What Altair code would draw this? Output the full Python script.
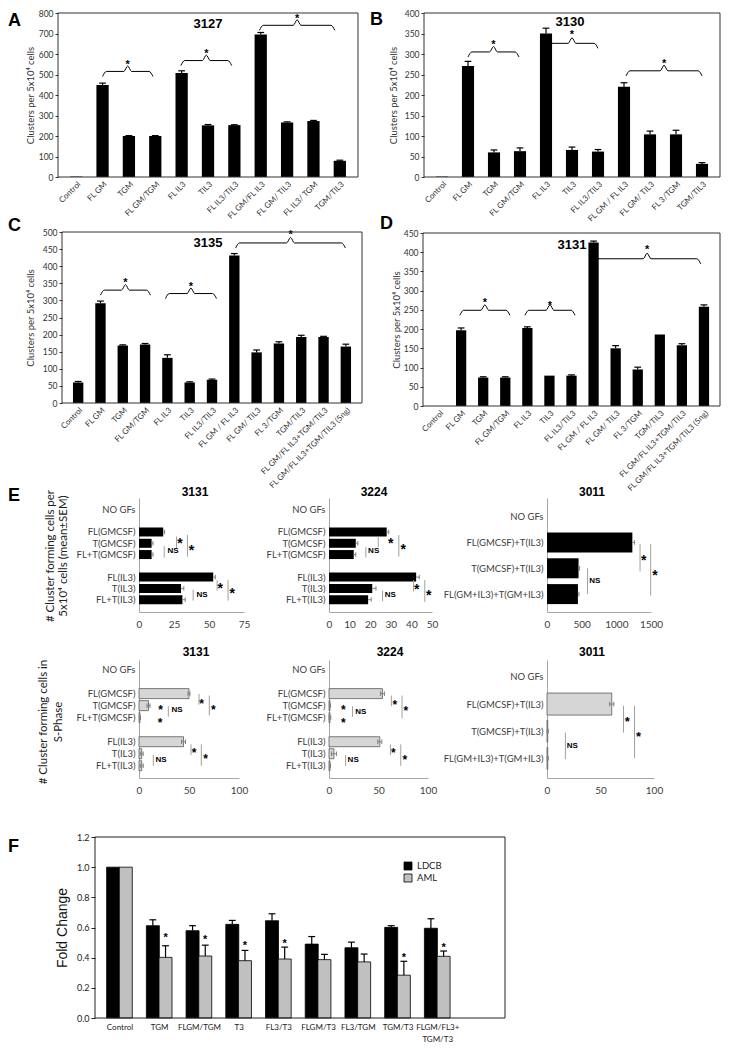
import json
import altair as alt
import pandas as pd

# ====================== DATA ======================
# Panel A : 3127
A_CATS = ["Control", "FL GM", "TGM", "FL GM/TGM", "FL IL3", "TIL3", "FL IL3/TIL3",
          "FL GM/FL IL3", "FL GM/ TIL3", "FL IL3/ TGM", "TGM/TIL3"]
A_VALS = [2, 449, 200, 200, 507, 252, 253, 695, 266, 273, 79]
A_ERRS = [0, 9, 2, 2, 11, 4, 2, 10, 3, 3, 3]
A_BR_START = [1.0, 3.97, 6.95]
A_BR_END = [2.91, 5.9, 9.81]
A_BR_LEVEL = [515, 568, 740]
A_BR_STAR = [563, 614, 786]

# Panel B : 3130
B_CATS = ["Control", "FL GM", "TGM", "FL GM/TGM", "FL IL3", "TIL3", "FL IL3/TIL3",
          "FL GM / FL IL3", "FL GM/ TIL3", "FL 3/TGM", "TGM/TIL3"]
B_VALS = [1, 271, 60, 63, 350, 66, 62, 220, 104, 104, 32]
B_ERRS = [0, 11, 6, 8, 13, 7, 5, 10, 8, 10, 3]
B_BR_START = [1.0, 4.0, 7.08]
B_BR_END = [2.96, 6.0, 10.0]
B_BR_LEVEL = [305, 326, 259]
B_BR_STAR = [330, 354, 284]

# Panels C (3135) and D (3131)
CD_CATS = ["Control", "FL GM", "TGM", "FL GM/TGM", "FL IL3", "TIL3", "FL IL3/TIL3",
           "FL GM / FL IL3", "FL GM/ TIL3", "FL 3/TGM", "TGM/TIL3",
           "FL GM/FL IL3+TGM/TIL3", "FL GM/FL IL3+TGM/TIL3 (5ng)"]
C_VALS = [60, 292, 168, 171, 132, 60, 68, 431, 148, 174, 193, 193, 165]
C_ERRS = [3, 6, 2, 3, 9, 2, 2, 6, 7, 5, 5, 2, 7]
C_BR_START = [1.0, 3.91, 7.06]
C_BR_END = [3.24, 6.2, 11.98]
C_BR_LEVEL = [330, 320, 468]
C_BR_STAR = [359, 349, 500]

D_VALS = [0, 197, 74, 74, 203, 79, 79, 425, 150, 95, 186, 158, 258]
D_ERRS = [0, 6, 2, 2, 3, 0, 2, 4, 7, 6, 0, 4, 5]
D_BR_START = [0.94, 3.89, 7.0]
D_BR_END = [3.21, 6.16, 11.85]
D_BR_LEVEL = [249, 249, 383]
D_BR_STAR = [275, 268, 414]

# Panel E
E_ROWS = ["NO GFs", "FL(GMCSF)", "T(GMCSF)", "FL+T(GMCSF)", "FL(IL3)", "T(IL3)", "FL+T(IL3)"]
E_IDX = [0, 2, 3, 4, 6, 7, 8]
E3011_ROWS = ["NO GFs", "FL(GMCSF)+T(IL3)", "T(GMCSF)+T(IL3)", "FL(GM+IL3)+T(GM+IL3)"]
E3011_IDX = [0, 1, 2, 3]

# top row: cluster forming cells
E1_3131_VALS = [0, 17.3, 9, 9, 53, 30, 31]
E1_3131_ERRS = [0, 1, 1, 1, 1.5, 2, 2]
E1_3131_SIG_X = [26.8, 34.6, 18.0, 55.8, 63.6, 38.7]
E1_3131_SIG_Y1 = [2.4, 2.27, 3.25, 6.27, 6.27, 7.12]
E1_3131_SIG_Y2 = [3.47, 4.19, 4.27, 7.2, 8.08, 8.08]
E1_3131_STAR_X = [29.2, 37.5, 58.0, 66.5]
E1_3131_STAR_Y = [2.72, 3.33, 6.67, 7.15]
E1_3131_NS_X = [19.7, 40.3]
E1_3131_NS_Y = [3.68, 7.55]

E1_3224_VALS = [0, 28, 13, 12, 42.3, 21, 19]
E1_3224_ERRS = [0, 1, 1, 1, 1.5, 1.8, 1.5]
E1_3224_SIG_X = [23.9, 33.9, 17.9, 41.0, 46.5, 26.0]
E1_3224_SIG_Y1 = [2.4, 2.27, 3.33, 6.27, 6.27, 7.2]
E1_3224_SIG_Y2 = [3.35, 4.19, 4.27, 7.28, 8.2, 8.13]
E1_3224_STAR_X = [30.0, 36.0, 42.6, 48.4]
E1_3224_STAR_Y = [2.72, 3.25, 6.75, 7.33]
E1_3224_NS_X = [18.5, 26.6]
E1_3224_NS_Y = [3.68, 7.55]

E1_3011_VALS = [0, 1231, 455, 446]
E1_3011_ERRS = [0, 30, 15, 15]
E1_3011_SIG_X = [1342, 1495, 585]
E1_3011_SIG_Y1 = [1.06, 1.06, 2.0]
E1_3011_SIG_Y2 = [2.12, 3.06, 3.0]
E1_3011_STAR_X = [1394, 1557]
E1_3011_STAR_Y = [1.55, 2.15]
E1_3011_NS_X = [595]
E1_3011_NS_Y = [2.49]

# bottom row: S-phase
E2_3131_VALS = [0, 50, 9.5, 1, 44.5, 2.7, 2.7]
E2_3131_ERRS = [0, 1, 1.5, 0.5, 2, 1.5, 1.5]
E2_3131_SIG_X = [60.0, 70.3, 29.3, 52.0, 62.3, 14.3]
E2_3131_SIG_Y1 = [2.03, 2.16, 3.05, 6.22, 6.22, 7.1]
E2_3131_SIG_Y2 = [2.92, 3.81, 3.93, 7.1, 8.0, 8.0]
E2_3131_STAR_X = [21.7, 21.0, 62.7, 74.3, 55.0, 66.7]
E2_3131_STAR_Y = [3.0, 4.1, 2.49, 3.05, 6.6, 7.1]
E2_3131_NS_X = [31.5, 15.5]
E2_3131_NS_Y = [3.4, 7.49]

E2_3224_VALS = [0, 54, 1, 1, 51.3, 5, 1]
E2_3224_ERRS = [0, 2, 0.5, 0.8, 2, 2.5, 0.5]
E2_3224_SIG_X = [63.0, 73.8, 23.8, 62.0, 72.5, 16.8]
E2_3224_SIG_Y1 = [2.16, 2.16, 3.05, 6.22, 6.22, 7.1]
E2_3224_SIG_Y2 = [3.05, 4.06, 3.93, 7.1, 8.0, 8.0]
E2_3224_STAR_X = [14.4, 14.4, 66.4, 77.5, 65.0, 76.5]
E2_3224_STAR_Y = [3.05, 4.1, 2.6, 3.12, 6.6, 7.16]
E2_3224_NS_X = [25.5, 17.8]
E2_3224_NS_Y = [3.5, 7.54]

E2_3011_VALS = [0, 60.5, 0.7, 0.7]
E2_3011_ERRS = [0, 2, 0.5, 0.5]
E2_3011_SIG_X = [71.5, 81.8, 17.2]
E2_3011_SIG_Y1 = [1.06, 1.06, 2.05]
E2_3011_SIG_Y2 = [2.05, 2.99, 3.03]
E2_3011_STAR_X = [75.0, 85.6]
E2_3011_STAR_Y = [1.5, 2.07]
E2_3011_NS_X = [17.6]
E2_3011_NS_Y = [2.56]

# Panel F
F_CATS = ["Control", "TGM", "FLGM/TGM", "T3", "FL3/T3", "FLGM/T3", "FL3/TGM", "TGM/T3",
          "FLGM/FL3+\nTGM/T3"]
F_LDCB = [1.0, 0.612, 0.579, 0.621, 0.645, 0.49, 0.466, 0.601, 0.595]
F_LDCB_ERR = [0, 0.039, 0.033, 0.026, 0.046, 0.05, 0.037, 0.011, 0.063]
F_AML = [1.0, 0.402, 0.411, 0.380, 0.391, 0.387, 0.372, 0.284, 0.409]
F_AML_ERR = [0, 0.077, 0.072, 0.068, 0.079, 0.035, 0.052, 0.092, 0.035]
F_AML_STAR = [None, 0.549, 0.538, 0.494, 0.509, None, None, 0.42, 0.487]
F_SERIES = ["LDCB", "AML"]
F_COLORS = ["#000000", "#c0c0c0"]

# ====================== HELPERS ======================
TOTAL_W, TOTAL_H = 713, 1034
SANS = "Lato, Open Sans, sans-serif"
ARIAL = "Liberation Sans, Arial, sans-serif"


def one():
    return pd.DataFrame({"k": [0]})


def note(text, x, y, size, bold=True, font=ARIAL, align="left", baseline="top",
         angle=None, color="#000000"):
    kw = dict(text=text, fontSize=size, font=font, align=align, baseline=baseline,
              color=color, fontWeight="bold" if bold else "normal")
    if angle is not None:
        kw["angle"] = angle
    return alt.Chart(one()).mark_text(**kw).encode(x=alt.value(x), y=alt.value(y))


def frame(L, R, T, Bm, color="#333333"):
    return alt.Chart(one()).mark_rect(fill="transparent", stroke=color, strokeWidth=1).encode(
        x=alt.value(L), x2=alt.value(R), y=alt.value(T), y2=alt.value(Bm))


def bar_panel(letter, letter_xy, title, title_xy, cats, vals, errs, ymax, ystep,
              bs, be, bl, bst, L, R, T, Bm, ytitle_dx):
    n = len(cats)
    step = (R - L) / n
    upx = ymax / (Bm - T)
    df = pd.DataFrame({"i": list(range(n)), "v": vals, "e": errs})
    xs = alt.Scale(domain=[-0.5, n - 0.5], range=[L, R], nice=False, zero=False)
    ys = alt.Scale(domain=[0, ymax], range=[Bm, T], nice=False)
    xa = alt.Axis(orient="bottom", offset=Bm - TOTAL_H, values=list(range(n)),
                  labelExpr=json.dumps(cats) + "[datum.value]",
                  labelAngle=315, labelAlign="right", labelBaseline="top", labelFont=SANS,
                  labelFontSize=8, labelColor="#333333", labelPadding=3, labelOverlap=False,
                  labelFlush=False, ticks=False, domain=False, grid=False, title=None)
    ya = alt.Axis(orient="left", offset=-L, values=list(range(0, ymax + 1, ystep)),
                  labelFont=SANS, labelFontSize=8.5,
                  labelColor="#333333", tickSize=3, tickColor="#333333", domain=False,
                  grid=False, labelPadding=2, labelFlush=False, labelOverlap=False,
                  title="Clusters per 5x10\u2074 cells", titleFont=SANS, titleFontSize=9.5,
                  titleFontWeight="normal", titleColor="#333333", titleX=ytitle_dx,
                  titleY=(T + Bm) / 2, titleAngle=270, titleAlign="center",
                  titleBaseline="middle")

    def X(f):
        return alt.X(f, type="quantitative", scale=xs, axis=xa)

    def Y(f):
        return alt.Y(f, type="quantitative", scale=ys, axis=ya)

    cap = 3.5 / step
    rows = []
    d = 5 * upx
    p = 5.5 * upx
    r = 4.0 / step
    for k, (s, e, lv) in enumerate(zip(bs, be, bl)):
        m = (s + e) / 2
        pts = [(s, lv - d), (s + r, lv), (m - r, lv), (m, lv + p), (m + r, lv),
               (e - r, lv), (e, lv - d)]
        for j, (px, py) in enumerate(pts):
            rows.append({"b": k, "o": j, "bx": px, "by": py})
    brace_df = pd.DataFrame(rows)
    star_df = pd.DataFrame({"mx": [(s + e) / 2 for s, e in zip(bs, be)], "sy": bst})

    braces = alt.Chart(brace_df).mark_line(interpolate="monotone", color="black",
                                           strokeWidth=1).encode(
        x=X("bx"), y=Y("by"), detail="b:N", order="o:Q")
    bars = alt.Chart(df).mark_bar(orient="vertical", size=0.45 * step, color="black").encode(
        x=X("i"), y=Y("v"))
    err = alt.Chart(df).transform_filter("datum.e > 0").transform_calculate(
        t="datum.v + datum.e").mark_rule(color="black", strokeWidth=1.2).encode(
        x=X("i"), y=Y("v"), y2="t")
    caps = alt.Chart(df).transform_filter("datum.e > 0").transform_calculate(
        t="datum.v + datum.e", xl=f"datum.i - {cap}", xr=f"datum.i + {cap}").mark_rule(
        color="black", strokeWidth=1.2).encode(x=X("xl"), x2="xr", y=Y("t"))
    stars = alt.Chart(star_df).mark_text(text="*", fontSize=11, font=ARIAL, fontWeight="bold",
                                         color="#000000", baseline="middle", dy=3).encode(
        x=X("mx"), y=Y("sy"))
    return alt.layer(braces, bars, err, caps, stars, frame(L, R, T, Bm),
                     note(title, title_xy[0], title_xy[1], 13, align="center",
                          baseline="middle"),
                     note(letter, letter_xy[0], letter_xy[1], 18))


def hpanel(title, title_xy, names, idx, vals, errs, gray, xmax, xticks, ydom,
           L, R, T, Bm, size, sx, sy1, sy2, stx, sty, nsx, nsy, lab_size, star_size):
    arr = [""] * (max(idx) + 1)
    for k, nm in zip(idx, names):
        arr[k] = nm
    df = pd.DataFrame({"i": idx, "v": vals, "e": errs})
    xs = alt.Scale(domain=[0, xmax], range=[L, R], nice=False)
    ys = alt.Scale(domain=ydom, range=[T, Bm], nice=False, zero=False)
    xa = alt.Axis(orient="bottom", offset=Bm - TOTAL_H, values=xticks, format="d",
                  labelFont=SANS, labelFontSize=10, labelColor="#404040",
                  ticks=False, domainColor="#a6a6a6", grid=False, labelPadding=7,
                  labelFlush=False, labelOverlap=False, title=None)
    ya = alt.Axis(orient="left", offset=-L, values=idx,
                  labelExpr=json.dumps(arr) + "[datum.value]", labelFont=SANS,
                  labelFontSize=lab_size, labelColor="#404040", ticks=False,
                  domainColor="#a6a6a6", grid=False, labelPadding=4, labelOverlap=False,
                  labelFlush=False, title=None)

    def X(f):
        return alt.X(f, type="quantitative", scale=xs, axis=xa)

    def Y(f):
        return alt.Y(f, type="quantitative", scale=ys, axis=ya)

    upy = (ydom[1] - ydom[0]) / (Bm - T)
    cap = 2.5 * upy
    if gray:
        bkw = dict(fill="#d6d6d6", stroke="#5a5a5a", strokeWidth=0.8)
        lo = "datum.v - datum.e"
    else:
        bkw = dict(color="black")
        lo = "datum.v"
    bars = alt.Chart(df).transform_filter("datum.v > 0").mark_bar(
        orient="horizontal", size=size, **bkw).encode(x=X("v"), y=Y("i"))
    base = alt.Chart(df).transform_filter("datum.v > 0").transform_calculate(
        lo=lo, hi="datum.v + datum.e", yl=f"datum.i - {cap}", yr=f"datum.i + {cap}")
    err = base.mark_rule(color="#808080", strokeWidth=1).encode(x=X("lo"), x2="hi", y=Y("i"))
    cap_hi = base.mark_rule(color="#808080", strokeWidth=1).encode(
        x=X("hi"), y=Y("yl"), y2="yr")
    layers = [bars, err, cap_hi]
    if gray:
        layers.append(base.mark_rule(color="#808080", strokeWidth=1).encode(
            x=X("lo"), y=Y("yl"), y2="yr"))
    sig = alt.Chart(pd.DataFrame({"sx": sx, "sy1": sy1, "sy2": sy2})).mark_rule(
        color="#a0a0a0", strokeWidth=1).encode(x=X("sx"), y=Y("sy1"), y2="sy2")
    stars = alt.Chart(pd.DataFrame({"stx": stx, "sty": sty})).mark_text(
        text="*", fontSize=star_size, fontWeight="bold", font=ARIAL, color="#000000",
        baseline="middle", dy=4).encode(x=X("stx"), y=Y("sty"))
    ns = alt.Chart(pd.DataFrame({"nsx": nsx, "nsy": nsy})).mark_text(
        text="NS", fontSize=8, fontWeight="bold", font=ARIAL, align="left",
        color="#000000", baseline="middle", dx=1).encode(x=X("nsx"), y=Y("nsy"))
    layers += [sig, stars, ns,
               note(title, title_xy[0], title_xy[1], 12, align="center", baseline="middle")]
    return alt.layer(*layers)


# ====================== PANELS (pixel frames) ======================
A = bar_panel("A", (0, 4), "3127", (200, 16), A_CATS, A_VALS, A_ERRS, 800, 100,
              A_BR_START, A_BR_END, A_BR_LEVEL, A_BR_STAR,
              L=50, R=350, T=5, Bm=169, ytitle_dx=-28)
B = bar_panel("B", (362, 3), "3130", (562, 14), B_CATS, B_VALS, B_ERRS, 400, 50,
              B_BR_START, B_BR_END, B_BR_LEVEL, B_BR_STAR,
              L=416, R=712, T=5, Bm=169, ytitle_dx=-31)
C = bar_panel("C", (0, 209), "3135", (200, 235), CD_CATS, C_VALS, C_ERRS, 500, 50,
              C_BR_START, C_BR_END, C_BR_LEVEL, C_BR_STAR,
              L=54, R=354, T=224, Bm=395, ytitle_dx=-32)
D = bar_panel("D", (372, 207), "3131", (564, 237), CD_CATS, D_VALS, D_ERRS, 450, 50,
              D_BR_START, D_BR_END, D_BR_LEVEL, D_BR_STAR,
              L=415, R=712, T=225, Bm=398, ytitle_dx=-27)

E1a = hpanel("3131", (187, 484), E_ROWS, E_IDX, E1_3131_VALS, E1_3131_ERRS, False, 75,
             [0, 25, 50, 75], [-0.57, 8.65], 131, 236, 490, 604, 9,
             E1_3131_SIG_X, E1_3131_SIG_Y1, E1_3131_SIG_Y2, E1_3131_STAR_X, E1_3131_STAR_Y,
             E1_3131_NS_X, E1_3131_NS_Y, 9.5, 14)
E1b = hpanel("3224", (366, 484), E_ROWS, E_IDX, E1_3224_VALS, E1_3224_ERRS, False, 50,
             [0, 10, 20, 30, 40, 50], [-0.57, 8.65], 321, 424, 490, 604, 9,
             E1_3224_SIG_X, E1_3224_SIG_Y1, E1_3224_SIG_Y2, E1_3224_STAR_X, E1_3224_STAR_Y,
             E1_3224_NS_X, E1_3224_NS_Y, 9.5, 14)
E1c = hpanel("3011", (584, 484), E3011_ROWS, E3011_IDX, E1_3011_VALS, E1_3011_ERRS, False,
             1500, [0, 500, 1000, 1500], [-0.53, 3.5], 539, 643, 490, 604, 20,
             E1_3011_SIG_X, E1_3011_SIG_Y1, E1_3011_SIG_Y2, E1_3011_STAR_X, E1_3011_STAR_Y,
             E1_3011_NS_X, E1_3011_NS_Y, 9.5, 14)

E2a = hpanel("3131", (188, 644), E_ROWS, E_IDX, E2_3131_VALS, E2_3131_ERRS, True, 100,
             [0, 50, 100], [-0.38, 8.6], 131, 231, 652, 770, 10,
             E2_3131_SIG_X, E2_3131_SIG_Y1, E2_3131_SIG_Y2, E2_3131_STAR_X, E2_3131_STAR_Y,
             E2_3131_NS_X, E2_3131_NS_Y, 9.5, 12)
E2b = hpanel("3224", (382, 644), E_ROWS, E_IDX, E2_3224_VALS, E2_3224_ERRS, True, 100,
             [0, 50, 100], [-0.38, 8.6], 321, 420, 652, 770, 10,
             E2_3224_SIG_X, E2_3224_SIG_Y1, E2_3224_SIG_Y2, E2_3224_STAR_X, E2_3224_STAR_Y,
             E2_3224_NS_X, E2_3224_NS_Y, 9.5, 12)
E2c = hpanel("3011", (584, 644), E3011_ROWS, E3011_IDX, E2_3011_VALS, E2_3011_ERRS, True,
             100, [0, 50, 100], [-0.44, 3.54], 539, 646, 652, 770, 22,
             E2_3011_SIG_X, E2_3011_SIG_Y1, E2_3011_SIG_Y2, E2_3011_STAR_X, E2_3011_STAR_Y,
             E2_3011_NS_X, E2_3011_NS_Y, 9.5, 13)

E_TEXT = alt.layer(
    note("E", 0, 479, 18),
    note("# Cluster forming cells per", 43, 548, 11.5, bold=False, font=SANS,
         align="center", baseline="middle", angle=270, color="#222222"),
    note("5x10\u2074 cells (mean\u00b1SEM)", 56, 548, 11.5, bold=False, font=SANS,
         align="center", baseline="middle", angle=270, color="#222222"),
    note("# Cluster forming cells in", 36, 714, 11.5, bold=False, font=SANS,
         align="center", baseline="middle", angle=270, color="#222222"),
    note("S-Phase", 51, 714, 11.5, bold=False, font=SANS,
         align="center", baseline="middle", angle=270, color="#222222"),
)

# ---- Panel F ----
FL, FR, FT, FB = 87, 497, 829, 1010
n_f = len(F_CATS)
stepF = (FR - FL) / (9.58 + 0.49)
offF = 6.5 / stepF
capF = 3.5 / stepF
f_rows = []
for g in range(n_f):
    f_rows.append({"g": g, "s": "LDCB", "v": F_LDCB[g], "e": F_LDCB_ERR[g], "st": None})
    f_rows.append({"g": g, "s": "AML", "v": F_AML[g], "e": F_AML_ERR[g], "st": F_AML_STAR[g]})
fdf = pd.DataFrame(f_rows)
f_labels = [c.split("\n") for c in F_CATS]
fxs = alt.Scale(domain=[-0.49, 9.58], range=[FL, FR], nice=False, zero=False)
fys = alt.Scale(domain=[0, 1.2], range=[FB, FT], nice=False)
fcs = alt.Scale(domain=F_SERIES, range=F_COLORS)
fxa = alt.Axis(orient="bottom", offset=FB - TOTAL_H, values=list(range(n_f)),
               labelExpr=json.dumps(f_labels) + "[datum.value]",
               labelAngle=0, labelFont=SANS, labelFontSize=8, labelColor="#222222",
               ticks=False, domain=False, grid=False, labelPadding=5, labelLineHeight=12,
               labelOverlap=False, labelFlush=False, labelAlign="center",
               labelBaseline="top", title=None)
fya = alt.Axis(orient="left", offset=-FL, values=[0, 0.2, 0.4, 0.6, 0.8, 1.0, 1.2],
               format=".1f", labelFont=SANS, labelFontSize=9, labelColor="#222222",
               tickSize=4, tickColor="#222222", domain=False, grid=False, labelPadding=2,
               labelFlush=False, title="Fold Change", titleFont=ARIAL, titleFontSize=14,
               titleFontWeight="normal", titleColor="#111111", titleX=-33,
               titleY=(FT + FB) / 2, titleAngle=270, titleAlign="center",
               titleBaseline="middle")


def FX(f):
    return alt.X(f, type="quantitative", scale=fxs, axis=fxa)


def FY(f):
    return alt.Y(f, type="quantitative", scale=fys, axis=fya)


fbase = alt.Chart(fdf).transform_calculate(
    xp=f"datum.g + (datum.s == 'LDCB' ? -{offF} : {offF})",
    t="datum.v + datum.e")
f_bars = fbase.mark_bar(orient="vertical", size=13, stroke="black", strokeWidth=0.8).encode(
    x=FX("xp"), y=FY("v"), color=alt.Color("s:N", scale=fcs, legend=None))
f_err = fbase.transform_filter("datum.e > 0").mark_rule(color="black", strokeWidth=1.2).encode(
    x=FX("xp"), y=FY("v"), y2="t")
f_caps = fbase.transform_filter("datum.e > 0").transform_calculate(
    xl=f"datum.xp - {capF}", xr=f"datum.xp + {capF}").mark_rule(
    color="black", strokeWidth=1.2).encode(x=FX("xl"), x2="xr", y=FY("t"))
f_stars = fbase.transform_filter("isValid(datum.st)").mark_text(
    text="*", fontSize=11, font=ARIAL, fontWeight="bold", color="#000000",
    baseline="middle", dy=3).encode(x=FX("xp"), y=FY("st"))

leg_layers = []
for k, sname in enumerate(F_SERIES):
    ldf = pd.DataFrame({"s": [sname]})
    leg_layers.append(alt.Chart(ldf).mark_square(size=64, stroke="black", strokeWidth=0.8,
                                                 opacity=1).encode(
        x=alt.value(400), y=alt.value(858 + 12 * k),
        color=alt.Color("s:N", scale=fcs, legend=None)))
    leg_layers.append(alt.Chart(ldf).mark_text(align="left", baseline="middle", font=SANS,
                                               fontSize=9.5, color="#222222").encode(
        x=alt.value(409), y=alt.value(858 + 12 * k), text="s:N"))

F = alt.layer(f_bars, f_err, f_caps, f_stars, *leg_layers, frame(FL, FR, FT, FB, "#222222"),
              note("F", 0, 830, 18))

chart = alt.layer(A, B, C, D, E1a, E1b, E1c, E2a, E2b, E2c, E_TEXT, F).resolve_scale(
    x="independent", y="independent", color="independent").resolve_axis(
    x="independent", y="independent").properties(
    width=TOTAL_W, height=TOTAL_H, padding=0, background="white").configure_view(
    stroke="transparent")

chart.save("out.html", embed_options={"renderer": "svg", "actions": False})
